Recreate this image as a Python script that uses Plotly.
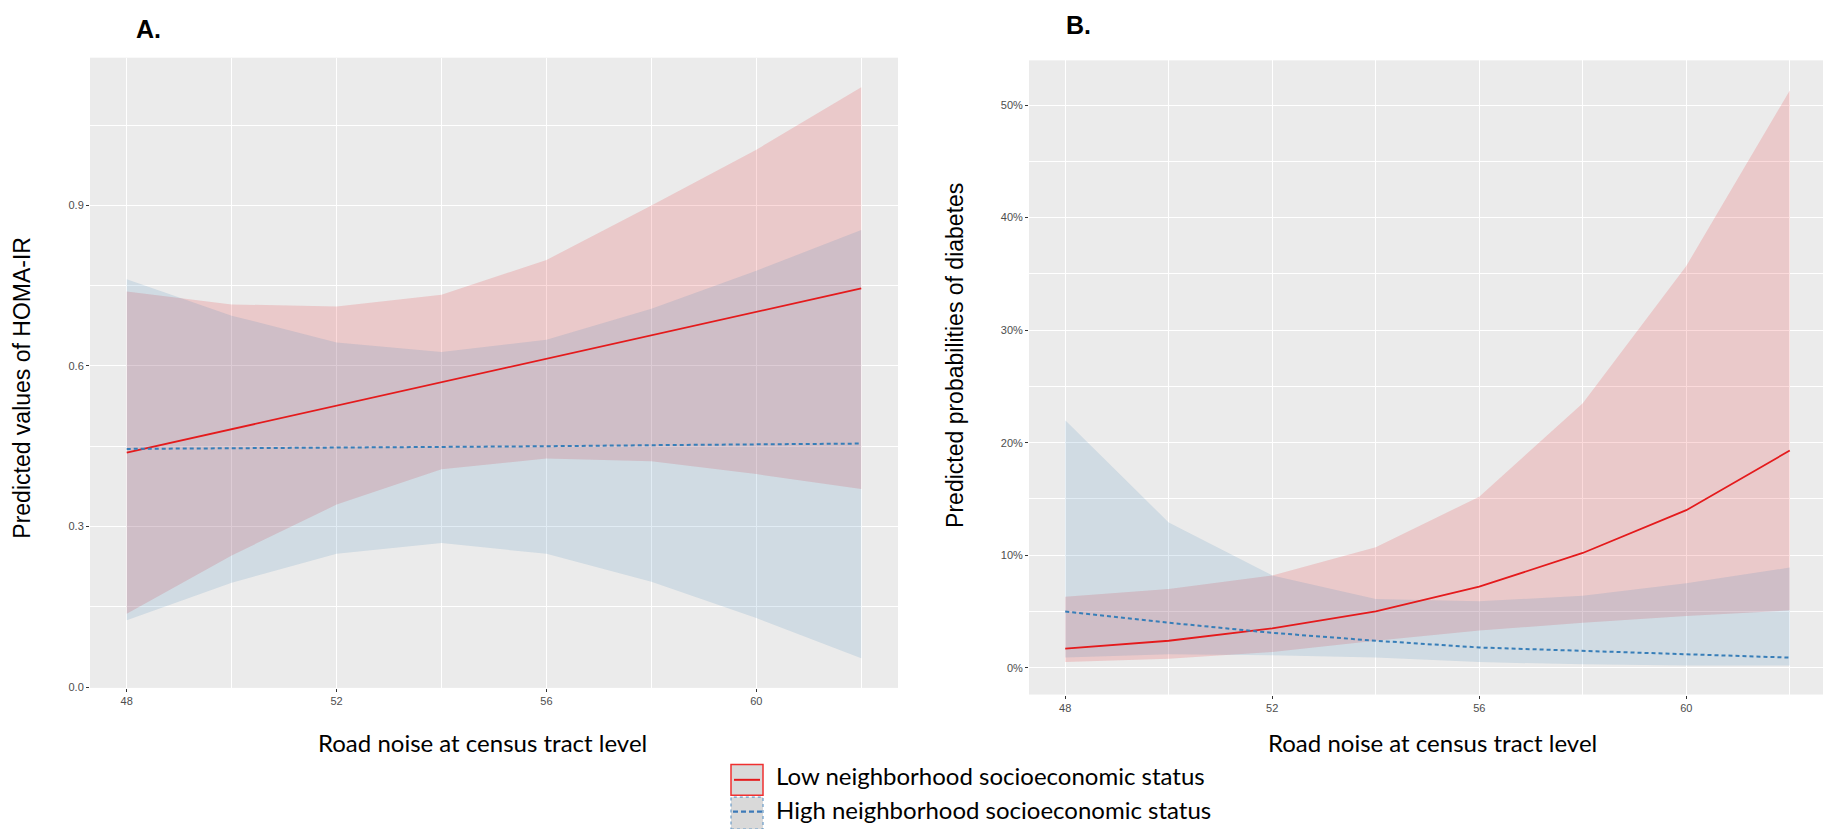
import plotly.graph_objects as go

# ---------------- data ----------------
noise = [48, 50, 52, 54, 56, 58, 60, 62]

# Panel A: predicted HOMA-IR
a_low_fit   = [0.438, 0.482, 0.526, 0.570, 0.614, 0.657, 0.701, 0.745]
a_low_upper = [0.739, 0.715, 0.711, 0.733, 0.798, 0.900, 1.004, 1.121]
a_low_lower = [0.137, 0.246, 0.341, 0.407, 0.427, 0.422, 0.398, 0.370]
a_high_fit   = [0.445, 0.446, 0.448, 0.449, 0.450, 0.452, 0.453, 0.455]
a_high_upper = [0.762, 0.694, 0.644, 0.626, 0.649, 0.707, 0.778, 0.854]
a_high_lower = [0.125, 0.195, 0.249, 0.269, 0.249, 0.197, 0.129, 0.054]

# Panel B: predicted probability of diabetes
b_low_fit   = [0.017, 0.024, 0.035, 0.050, 0.072, 0.102, 0.140, 0.193]
b_low_upper = [0.063, 0.070, 0.082, 0.107, 0.152, 0.235, 0.357, 0.513]
b_low_lower = [0.005, 0.008, 0.014, 0.024, 0.033, 0.040, 0.046, 0.051]
b_high_fit   = [0.050, 0.040, 0.031, 0.024, 0.018, 0.015, 0.012, 0.009]
b_high_upper = [0.220, 0.129, 0.082, 0.061, 0.059, 0.064, 0.075, 0.089]
b_high_lower = [0.009, 0.012, 0.011, 0.009, 0.005, 0.003, 0.002, 0.002]

x_ticks = [48, 52, 56, 60]
a_y_ticks = [0.0, 0.3, 0.6, 0.9]
a_y_ticktext = ["0.0", "0.3", "0.6", "0.9"]
b_y_ticks = [0.0, 0.1, 0.2, 0.3, 0.4, 0.5]

legend_labels = ["Low neighborhood socioeconomic status",
                 "High neighborhood socioeconomic status"]
x_title = "Road noise at census tract level"
a_y_title = "Predicted values of HOMA-IR"
b_y_title = "Predicted probabilities of diabetes"

# ---------------- styling ----------------
W, H = 1831, 829
RED = "#E41A1C"
BLUE = "#377EB8"
RED_FILL = "rgba(228,26,28,0.16)"
BLUE_FILL = "rgba(55,126,184,0.15)"
BG = "#EBEBEB"
TICK_FONT = dict(family="Liberation Sans, Arial", size=11, color="#4D4D4D")
LAB_FONT = "Lato, Open Sans, sans-serif"


def px(xp):
    return xp / W


def py(yp):
    return 1 - yp / H


fig = go.Figure()


def add_panel(xa, ya, low_fit, low_up, low_lo, high_fit, high_up, high_lo):
    fig.add_trace(go.Scatter(x=noise + noise[::-1], y=low_up + low_lo[::-1],
                             fill="toself", fillcolor=RED_FILL, line=dict(width=0),
                             mode="lines", hoverinfo="skip", showlegend=False,
                             xaxis=xa, yaxis=ya))
    fig.add_trace(go.Scatter(x=noise + noise[::-1], y=high_up + high_lo[::-1],
                             fill="toself", fillcolor=BLUE_FILL, line=dict(width=0),
                             mode="lines", hoverinfo="skip", showlegend=False,
                             xaxis=xa, yaxis=ya))
    fig.add_trace(go.Scatter(x=noise, y=low_fit, mode="lines",
                             line=dict(color=RED, width=1.8), showlegend=False,
                             xaxis=xa, yaxis=ya))
    fig.add_trace(go.Scatter(x=noise, y=high_fit, mode="lines",
                             line=dict(color=BLUE, width=2, dash="4px,3px"),
                             showlegend=False, xaxis=xa, yaxis=ya))


add_panel("x", "y", a_low_fit, a_low_upper, a_low_lower,
          a_high_fit, a_high_upper, a_high_lower)
add_panel("x2", "y2", b_low_fit, b_low_upper, b_low_lower,
          b_high_fit, b_high_upper, b_high_lower)

axis_common = dict(
    showline=False, zeroline=False, showgrid=True, gridcolor="white", gridwidth=1.4,
    ticks="outside", ticklen=3, tickwidth=1, tickcolor="#333333",
    tickfont=TICK_FONT,
)

xaxis_common = dict(axis_common, range=[47.3, 62.7], tickvals=x_ticks,
                    ticktext=[str(v) for v in x_ticks],
                    minor=dict(tickvals=[50, 54, 58, 62], showgrid=True,
                               gridcolor="white", gridwidth=0.7, ticks=""))

fig.update_layout(
    width=W, height=H,
    margin=dict(l=0, r=0, t=0, b=0),
    paper_bgcolor="white", plot_bgcolor=BG,
    showlegend=False,
    xaxis=dict(xaxis_common, domain=[px(82), px(890)], anchor="y"),
    yaxis=dict(axis_common, domain=[py(684), py(50)], anchor="x",
               range=[-0.0015, 1.176], tickvals=a_y_ticks,
               ticktext=a_y_ticktext,
               minor=dict(tickvals=[0.15, 0.45, 0.75, 1.05], showgrid=True,
                          gridcolor="white", gridwidth=0.7, ticks="")),
    xaxis2=dict(xaxis_common, domain=[px(1021), px(1818)], anchor="y2"),
    yaxis2=dict(axis_common, domain=[py(690.7), py(52.7)], anchor="x2",
                range=[-0.0238, 0.5397], tickvals=b_y_ticks, tickformat=".0%",
                minor=dict(tickvals=[0.05, 0.15, 0.25, 0.35, 0.45], showgrid=True,
                           gridcolor="white", gridwidth=0.7, ticks="")),
)

ann = []
# panel letters
ann.append(dict(text="<b>A.</b>", x=px(126), y=py(21), xref="paper", yref="paper",
                xanchor="left", yanchor="middle", showarrow=False,
                font=dict(family="Liberation Sans, Arial", size=25, color="black")))
ann.append(dict(text="<b>B.</b>", x=px(1056), y=py(17), xref="paper", yref="paper",
                xanchor="left", yanchor="middle", showarrow=False,
                font=dict(family="Liberation Sans, Arial", size=25, color="black")))
# x titles
for cx in (474, 1424):
    ann.append(dict(text=x_title, x=px(cx), y=py(739), xref="paper", yref="paper",
                    xanchor="center", yanchor="middle", showarrow=False,
                    font=dict(family=LAB_FONT, size=24, color="black")))
# y titles
ann.append(dict(text=a_y_title, x=px(14), y=py(382), xref="paper", yref="paper",
                xanchor="center", yanchor="middle", textangle=-90, showarrow=False,
                font=dict(family="Liberation Sans, Arial", size=23, color="black")))
ann.append(dict(text=b_y_title, x=px(947), y=py(350), xref="paper", yref="paper",
                xanchor="center", yanchor="middle", textangle=-90, showarrow=False,
                font=dict(family="Liberation Sans, Arial", size=23, color="black")))
# legend text
for lab, cy in zip(legend_labels, (772, 806)):
    ann.append(dict(text=lab, x=px(766), y=py(cy), xref="paper", yref="paper",
                    xanchor="left", yanchor="middle", showarrow=False,
                    font=dict(family=LAB_FONT, size=24, color="black")))
fig.update_layout(annotations=ann)

# legend keys
shapes = [
    dict(type="rect", xref="paper", yref="paper", x0=px(723), x1=px(755),
         y0=py(792), y1=py(761), fillcolor="#D9D9D9",
         line=dict(color="#F03030", width=1.5)),
    dict(type="line", xref="paper", yref="paper", x0=px(726), x1=px(752),
         y0=py(776.5), y1=py(776.5), line=dict(color=RED, width=2)),
    dict(type="rect", xref="paper", yref="paper", x0=px(723), x1=px(755),
         y0=py(826), y1=py(794), fillcolor="#D9D9D9",
         line=dict(color="#6A9CC8", width=1.2, dash="dot")),
    dict(type="line", xref="paper", yref="paper", x0=px(725), x1=px(754),
         y0=py(808.5), y1=py(808.5), line=dict(color="#3D7AB8", width=2.2, dash="5px,3px")),
]
fig.update_layout(shapes=shapes)

fig.write_html("out.html")
